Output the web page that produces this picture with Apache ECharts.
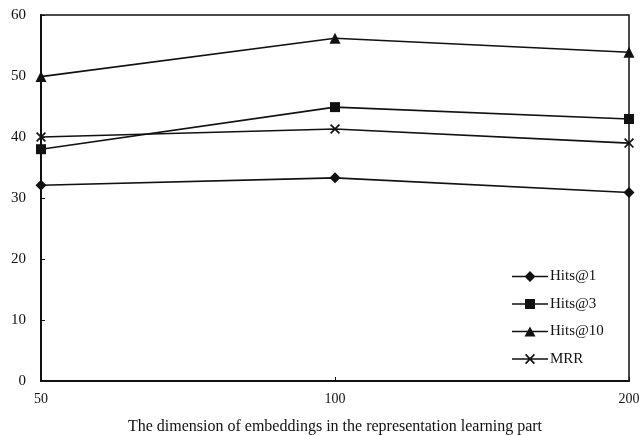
<!DOCTYPE html>
<html><head><meta charset="utf-8">
<script src="https://cdn.jsdelivr.net/npm/echarts@6/dist/echarts.min.js"></script>
<style>html,body{margin:0;padding:0;background:#fff}#c{width:641px;height:435px}</style>
</head><body><div id="c"></div>
<script>
const categories = ['50', '100', '200'];
const hits1 = [32.1, 33.3, 30.9];
const hits3 = [38.0, 44.9, 42.95];
const hits10 = [49.9, 56.2, 53.9];
const mrr = [40.0, 41.3, 39.0];
const yTicks = [0, 10, 20, 30, 40, 50, 60];

const FONT = 'Liberation Serif';
const INK = '#111';
const xPath = 'path://M0,1.2L1.2,0L5,3.8L8.8,0L10,1.2L6.2,5L10,8.8L8.8,10L5,6.2L1.2,10L0,8.8L3.8,5Z';

const BAR = 'M0,4.8H36V6.2H0Z';
const legendIcons = {
  'Hits@1': 'path://' + BAR + 'M18,0L23.5,5.5L18,11L12.5,5.5Z',
  'Hits@3': 'path://' + BAR + 'M13,0.5H23V10.5H13Z',
  'Hits@10': 'path://' + BAR + 'M18,0.5L23.5,10.5L12.5,10.5Z',
  'MRR': 'path://' + BAR + 'M13,1.5L14.2,0.3L18,4.3L21.8,0.3L23,1.5L19.2,5.5L23,9.5L21.8,10.7L18,6.7L14.2,10.7L13,9.5L16.8,5.5Z'
};

function mk(name, data, symbol, size) {
  return {
    name, type: 'line', data, symbol, symbolSize: size,
    lineStyle: { color: INK, width: 1.6 },
    itemStyle: { color: INK },
    emphasis: { disabled: true },
    animation: false
  };
}

const chart = echarts.init(document.getElementById('c'), null, { renderer: 'canvas' });
chart.setOption({
  animation: false,
  grid: { left: 41, right: 12, top: 15, bottom: 54, show: true, borderColor: INK, borderWidth: 1.5, outerBoundsMode: 'none', containLabel: false },
  legend: {
    orient: 'vertical', left: 507, top: 264, itemWidth: 36, itemHeight: 11, itemGap: 12.5,
    textStyle: { fontFamily: FONT, fontSize: 15, color: INK, padding: [0, 0, 0, -3] },
    data: ['Hits@1', 'Hits@3', 'Hits@10', 'MRR'].map(n => ({ name: n, icon: legendIcons[n], itemStyle: { color: INK } }))
  },
  xAxis: {
    type: 'category', data: categories, boundaryGap: false,
    name: 'The dimension of embeddings in the representation learning part',
    nameLocation: 'middle', nameGap: 38,
    nameTextStyle: { fontFamily: FONT, fontSize: 16, color: INK },
    axisLine: { lineStyle: { color: INK, width: 2 } },
    axisTick: { show: true, inside: true, length: 4, lineStyle: { color: INK } },
    axisLabel: { fontFamily: FONT, fontSize: 14, color: INK, margin: 11 },
    splitLine: { show: false }
  },
  yAxis: {
    type: 'value', min: yTicks[0], max: yTicks[yTicks.length - 1], interval: 10,
    axisLine: { show: true, lineStyle: { color: INK, width: 2 } },
    axisTick: { show: true, inside: true, length: 4, lineStyle: { color: INK } },
    axisLabel: { fontFamily: FONT, fontSize: 15, color: INK, margin: 15 },
    splitLine: { show: false }
  },
  series: [
    mk('Hits@1', hits1, 'diamond', 11),
    mk('Hits@3', hits3, 'rect', 10),
    mk('Hits@10', hits10, 'triangle', 11),
    mk('MRR', mrr, xPath, 10)
  ]
});
</script></body></html>
